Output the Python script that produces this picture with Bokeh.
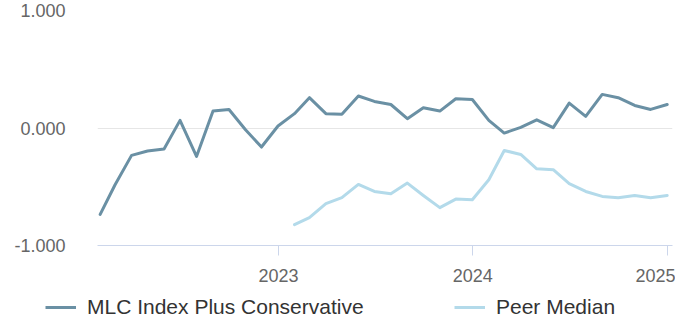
from datetime import datetime
from bokeh.plotting import figure
from bokeh.layouts import column
from bokeh.models import (Range1d, FixedTicker, NumeralTickFormatter, DatetimeTickFormatter,
                          Legend, LegendItem)
from bokeh.embed import file_html
from bokeh.resources import INLINE

# ---- data (month-end dates) ----
dates = [
    "2022-01-31", "2022-02-28", "2022-03-31", "2022-04-30", "2022-05-31", "2022-06-30",
    "2022-07-31", "2022-08-31", "2022-09-30", "2022-10-31", "2022-11-30", "2022-12-31",
    "2023-01-31", "2023-02-28", "2023-03-31", "2023-04-30", "2023-05-31", "2023-06-30",
    "2023-07-31", "2023-08-31", "2023-09-30", "2023-10-31", "2023-11-30", "2023-12-31",
    "2024-01-31", "2024-02-29", "2024-03-31", "2024-04-30", "2024-05-31", "2024-06-30",
    "2024-07-31", "2024-08-31", "2024-09-30", "2024-10-31", "2024-11-30", "2024-12-31",
]
mlc_values = [
    -0.735, -0.483, -0.233, -0.196, -0.179, 0.065, -0.242, 0.144, 0.158, -0.015, -0.162, 0.017,
    0.122, 0.258, 0.122, 0.116, 0.272, 0.226, 0.200, 0.079, 0.173, 0.144, 0.249, 0.243,
    0.065, -0.043, 0.005, 0.070, 0.003, 0.212, 0.099, 0.286, 0.258, 0.192, 0.158, 0.200,
]
peer_dates = dates[12:]
peer_values = [
    -0.823, -0.763, -0.644, -0.593, -0.480, -0.540, -0.559, -0.469, -0.574, -0.678, -0.605, -0.610,
    -0.440, -0.191, -0.225, -0.347, -0.355, -0.474, -0.540, -0.582, -0.593, -0.574, -0.593, -0.574,
]
tick_years = [2023, 2024, 2025]
y_ticks = [-1.0, 0.0, 1.0]
series_names = ["MLC Index Plus Conservative", "Peer Median"]

FONT = "Liberation Sans"
DARK = "#6a90a4"
LIGHT = "#b3daea"
COLORS = [DARK, LIGHT]

x_dark = [datetime.strptime(d, "%Y-%m-%d") for d in dates]
x_light = [datetime.strptime(d, "%Y-%m-%d") for d in peer_dates]

p = figure(width=675, height=290, output_backend="svg", toolbar_location=None,
           x_axis_type="datetime",
           x_range=Range1d(datetime(2022, 1, 26), datetime(2025, 1, 10)),
           y_range=Range1d(-1.0, 1.0),
           min_border_left=97, min_border_right=3, min_border_top=10, min_border_bottom=45)
p.frame_align = False
p.outline_line_color = None
p.background_fill_color = "white"
p.border_fill_color = "white"

p.line(x_dark, mlc_values, line_color=DARK, line_width=3, line_join="round", line_cap="round")
p.line(x_light, peer_values, line_color=LIGHT, line_width=3, line_join="round", line_cap="round")

# x axis
p.xaxis.ticker = FixedTicker(ticks=[datetime(y, 1, 1).timestamp() * 1000 for y in tick_years])
p.xaxis.formatter = DatetimeTickFormatter(years="%Y", months="%Y", days="%Y")
p.xaxis.axis_line_color = "#ccd6eb"
p.xaxis.major_tick_line_color = "#ccd6eb"
p.xaxis.major_tick_out = 10
p.xaxis.major_tick_in = 0
p.xaxis.minor_tick_line_color = None
p.xaxis.major_label_standoff = 13
p.xaxis.major_label_text_font = FONT
p.xaxis.major_label_text_font_size = "18px"
p.xaxis.major_label_text_color = "#666666"
p.xgrid.grid_line_color = None

# y axis
p.yaxis.ticker = FixedTicker(ticks=y_ticks)
p.yaxis.formatter = NumeralTickFormatter(format="0.000")
p.yaxis.axis_line_color = None
p.yaxis.major_tick_line_color = None
p.yaxis.minor_tick_line_color = None
p.yaxis.major_tick_out = 0
p.yaxis.major_tick_in = 0
p.yaxis.major_label_standoff = 32
p.yaxis.major_label_text_baseline = "hanging"
p.yaxis.major_label_text_font = FONT
p.yaxis.major_label_text_font_size = "18px"
p.yaxis.major_label_text_color = "#666666"
p.ygrid.grid_line_color = "#e6e6e6"
p.ygrid.grid_line_width = 1

# legend strip below the chart
lf = figure(width=675, height=33, output_backend="svg", toolbar_location=None,
            x_range=Range1d(0, 1), y_range=Range1d(0, 1),
            x_axis_location=None, y_axis_location=None,
            min_border_left=0, min_border_right=0, min_border_top=0, min_border_bottom=0)
lf.frame_align = False
lf.outline_line_color = None
lf.xgrid.grid_line_color = None
lf.ygrid.grid_line_color = None
lf.background_fill_color = "white"
lf.border_fill_color = "white"

for name, col, xloc in zip(series_names, COLORS, [45, 454]):
    rr = lf.line([-3, -2], [-3, -2], line_color=col, line_width=3)
    lg = Legend(items=[LegendItem(label=name, renderers=[rr])], location=(xloc, 4),
                orientation="horizontal", padding=0, margin=0, spacing=0,
                glyph_width=31, glyph_height=24, label_height=24, label_standoff=11,
                border_line_color=None, background_fill_alpha=0,
                label_text_font=FONT, label_text_font_size="21px", label_text_color="#333333")
    lf.add_layout(lg, "center")

layout = column(p, lf, spacing=0)
open("out.html", "w").write(file_html(layout, INLINE))
